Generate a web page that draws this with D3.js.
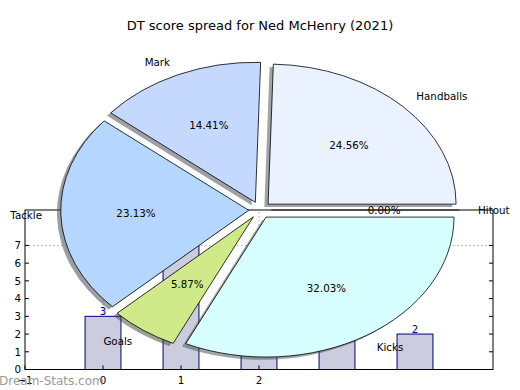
<!DOCTYPE html>
<html>
<head>
<meta charset="utf-8">
<script src="https://cdn.jsdelivr.net/npm/d3@7"></script>
<style>
  body { margin: 0; background: #fff; }
  svg { display: block; font-family: "DejaVu Sans", sans-serif; }
</style>
</head>
<body>
<div id="chart"></div>
<script>
// ----------------------
// Data
// ----------------------
const title = "DT score spread for Ned McHenry (2021)";

// pie slices (matplotlib order, counter-clockwise from east)
const sliceLabels = ["Handballs", "Mark", "Tackle", "Goals", "Kicks", "Hitout"];
const sliceValues = [24.56, 14.41, 23.13, 5.87, 32.03, 0.00];
const sliceColors = ["#eaf1ff", "#c5d9ff", "#b4d6ff", "#d0ea8a", "#d8ffff", "#ffffff"];

// bar chart sitting behind the pie
const barX = [0, 1, 2, 3, 4];
const barValues = [3, 8, 5, 4, 2];
const xTicks = [-1, 0, 1, 2];
const yTicks = [0, 1, 2, 3, 4, 5, 6, 7];
const gridY = [7];

const width = 520, height = 390;

const svg = d3.select("#chart").append("svg")
    .attr("width", width)
    .attr("height", height);

// ----------------------
// Bar axes
// ----------------------
const x = d3.scaleLinear().domain([-1, 5]).range([25, 493]);
const y = d3.scaleLinear().domain([0, 9]).range([369.5, 210]);

const bars = svg.append("g");

// dotted grid
bars.selectAll("line.gx")
    .data(xTicks.filter(d => d > -1))
    .enter().append("line")
    .attr("x1", d => x(d)).attr("x2", d => x(d))
    .attr("y1", y(0)).attr("y2", y(9))
    .attr("stroke", "#aaa").attr("stroke-dasharray", "1.5,2.5");

bars.selectAll("line.gy")
    .data(gridY)
    .enter().append("line")
    .attr("x1", x(-1)).attr("x2", x(5))
    .attr("y1", d => y(d)).attr("y2", d => y(d))
    .attr("stroke", "#aaa").attr("stroke-dasharray", "1.5,2.5");

const bw = 0.46;
bars.selectAll("rect")
    .data(barX)
    .enter().append("rect")
    .attr("x", d => x(d - bw / 2))
    .attr("width", x(bw) - x(0))
    .attr("y", (d, i) => y(barValues[i]))
    .attr("height", (d, i) => y(0) - y(barValues[i]))
    .attr("fill", "#ccccdf")
    .attr("stroke", "#000080")
    .attr("stroke-width", 1);

bars.selectAll("text.bv")
    .data(barX)
    .enter().append("text")
    .attr("x", d => x(d))
    .attr("y", (d, i) => y(barValues[i]) - 1)
    .attr("text-anchor", "middle")
    .attr("font-size", "10.3px")
    .attr("fill", "#000080")
    .text((d, i) => barValues[i]);

// frame
bars.append("rect")
    .attr("x", x(-1)).attr("y", y(9))
    .attr("width", x(5) - x(-1)).attr("height", y(0) - y(9))
    .attr("fill", "none").attr("stroke", "#000").attr("stroke-width", 1);

// ticks (inward, both sides)
yTicks.forEach(t => {
    bars.append("line").attr("x1", x(-1)).attr("x2", x(-1) + 4)
        .attr("y1", y(t)).attr("y2", y(t)).attr("stroke", "#000");
    bars.append("line").attr("x1", x(5)).attr("x2", x(5) - 4)
        .attr("y1", y(t)).attr("y2", y(t)).attr("stroke", "#000");
    bars.append("text").attr("x", x(-1) - 4).attr("y", y(t) + 3.8)
        .attr("text-anchor", "end").attr("font-size", "10.3px").text(t);
});
xTicks.forEach(t => {
    bars.append("line").attr("x1", x(t)).attr("x2", x(t))
        .attr("y1", y(0)).attr("y2", y(0) - 4).attr("stroke", "#000");
    bars.append("text").attr("x", x(t)).attr("y", y(0) + 14)
        .attr("text-anchor", "middle").attr("font-size", "10.3px")
        .text(t < 0 ? "\u2212" + Math.abs(t) : t);
});

// ----------------------
// Exploded elliptical pie with shadow
// ----------------------
const cx = 260, cy = 210, rx = 188, ry = 140;
const explode = 0.06, labelDist = 1.1, pctDist = 0.6;

// d3 angles run clockwise from north, so go backwards from pi/2
const pie = d3.pie().sort(null).value(d => d)
    .startAngle(Math.PI / 2).endAngle(Math.PI / 2 - 2 * Math.PI);
const arcs = pie(sliceValues);

const arc = d3.arc().innerRadius(0).outerRadius(1);

const midOf = d => (d.startAngle + d.endAngle) / 2;
const offX = (d, k) => k * rx * Math.sin(midOf(d));
const offY = (d, k) => -k * ry * Math.cos(midOf(d));

const pieG = svg.append("g");

// shadows first (below every wedge)
pieG.selectAll("path.shadow")
    .data(arcs.filter(d => d.value > 0))
    .enter().append("path")
    .attr("d", arc)
    .attr("transform", d => `translate(${cx + offX(d, explode) - 0.02 * rx},${cy + offY(d, explode) + 0.02 * ry}) scale(${rx},${ry})`)
    .attr("fill", d => {
        const c = d3.rgb(sliceColors[d.index]);
        return d3.rgb(c.r * 0.3, c.g * 0.3, c.b * 0.3);
    })
    .attr("opacity", 0.5);

pieG.selectAll("path.wedge")
    .data(arcs.filter(d => d.value > 0))
    .enter().append("path")
    .attr("d", arc)
    .attr("transform", d => `translate(${cx + offX(d, explode)},${cy + offY(d, explode)}) scale(${rx},${ry})`)
    .attr("fill", d => sliceColors[d.index])
    .attr("stroke", "#000")
    .attr("stroke-width", 0.8)
    .attr("vector-effect", "non-scaling-stroke");

// zero-size wedge is just a line out to the rim
arcs.filter(d => d.value === 0).forEach(d => {
    pieG.append("line")
        .attr("x1", cx + offX(d, explode)).attr("y1", cy + offY(d, explode))
        .attr("x2", cx + offX(d, explode + 1)).attr("y2", cy + offY(d, explode + 1))
        .attr("stroke", "#000").attr("stroke-width", 0.8);
});

// labels outside
pieG.selectAll("text.lab")
    .data(arcs)
    .enter().append("text")
    .attr("x", d => cx + offX(d, explode + labelDist))
    .attr("y", d => cy + offY(d, explode + labelDist))
    .attr("dy", "0.35em")
    .attr("text-anchor", d => Math.sin(midOf(d)) > 0 ? "start" : "end")
    .attr("font-size", "10.3px")
    .text(d => sliceLabels[d.index]);

// percentages inside
pieG.selectAll("text.pct")
    .data(arcs)
    .enter().append("text")
    .attr("x", d => cx + offX(d, explode + pctDist))
    .attr("y", d => cy + offY(d, explode + pctDist))
    .attr("dy", "0.35em")
    .attr("text-anchor", "middle")
    .attr("font-size", "10.3px")
    .text(d => sliceValues[d.index].toFixed(2) + "%");

// ----------------------
// Title and watermark
// ----------------------
svg.append("text")
    .attr("x", 260).attr("y", 30)
    .attr("text-anchor", "middle")
    .attr("font-size", "13px")
    .text(title);

svg.append("text")
    .attr("x", -1).attr("y", 385)
    .attr("font-size", "12px")
    .attr("fill", "#8a8a8a")
    .attr("opacity", 0.85)
    .text("Dream-Stats.com");
</script>
</body>
</html>
